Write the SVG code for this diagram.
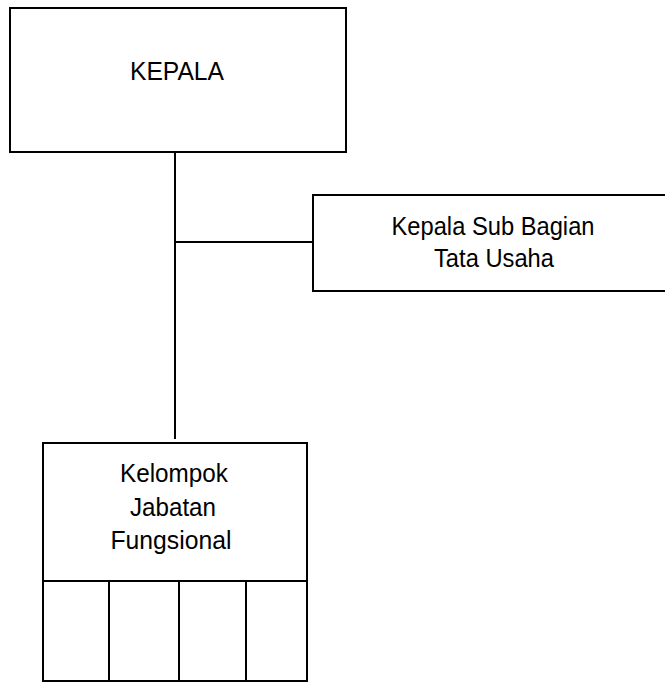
<svg xmlns="http://www.w3.org/2000/svg" width="665" height="683" viewBox="0 0 665 683">
<style>
.box{fill:#fff;stroke:#000;stroke-width:2}
.ln{stroke:#000;stroke-width:2;fill:none}
text{font-family:"Liberation Sans",Arial,sans-serif;font-size:26px;fill:#000;text-anchor:middle}
</style>
<rect width="665" height="683" fill="#fff"/>
<g id="connectors">
<line class="ln" x1="175" y1="152" x2="175" y2="439"/>
<line class="ln" x1="175" y1="242" x2="313" y2="242"/>
</g>
<g id="kepala">
<rect class="box" x="10" y="8" width="336" height="144"/>
<text x="177" y="80" textLength="94" lengthAdjust="spacingAndGlyphs">KEPALA</text>
</g>
<g id="subbag">
<rect class="box" x="313" y="195" width="370" height="96"/>
<text x="493" y="235" textLength="203" lengthAdjust="spacingAndGlyphs">Kepala Sub Bagian</text>
<text x="494" y="267" textLength="120" lengthAdjust="spacingAndGlyphs">Tata Usaha</text>
</g>
<g id="fungsional">
<rect class="box" x="43" y="443" width="264" height="238"/>
<line class="ln" x1="43" y1="581" x2="307" y2="581"/>
<line class="ln" x1="109" y1="581" x2="109" y2="680"/>
<line class="ln" x1="179" y1="581" x2="179" y2="680"/>
<line class="ln" x1="246" y1="581" x2="246" y2="680"/>
<text x="174" y="482" textLength="108" lengthAdjust="spacingAndGlyphs">Kelompok</text>
<text x="173" y="516" textLength="86" lengthAdjust="spacingAndGlyphs">Jabatan</text>
<text x="171" y="549" textLength="121" lengthAdjust="spacingAndGlyphs">Fungsional</text>
</g>
</svg>
